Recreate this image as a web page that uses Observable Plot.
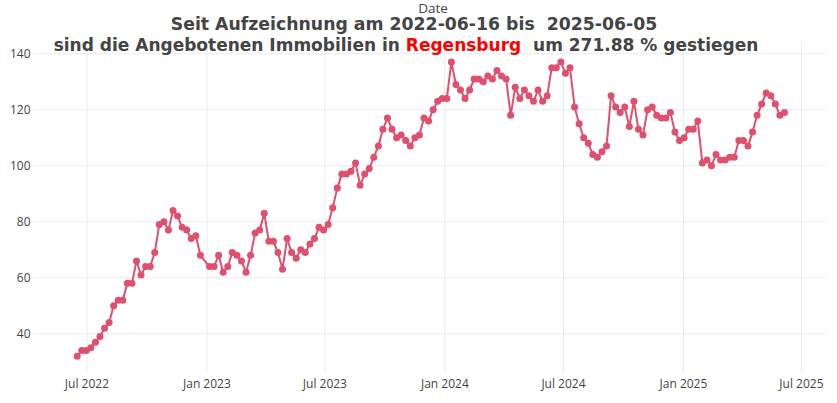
<!DOCTYPE html>
<html><head><meta charset="utf-8">
<script src="https://cdn.jsdelivr.net/npm/d3@7"></script>
<script src="https://cdn.jsdelivr.net/npm/@observablehq/plot@0.6"></script>
<style>body{margin:0;background:#fff;font-family:"Open Sans",sans-serif}</style>
</head><body><div id="chart"></div>
<script>
const startDate = "2022-06-16";
// weekly values (one per Thursday), null = no reading that week
const values = [32,34,34,35,37,39,42,44,50,52,52,58,58,66,61,64,64,69,79,80,77,84,82,78,77,74,75,68,null,64,64,68,62,64,69,68,66,62,68,76,77,83,73,73,69,63,74,69,67,70,69,72,74,78,77,79,85,92,97,97,98,101,93,97,99,103,107,113,117,113,110,111,109,107,110,111,117,116,120,123,124,124,137,129,127,124,127,131,131,130,132,131,134,132,131,118,128,124,127,125,123,127,123,125,135,135,137,133,135,121,115,110,108,104,103,105,107,125,121,119,121,114,123,113,111,120,121,118,117,117,119,112,109,110,113,113,116,101,102,100,104,102,102,103,103,109,109,107,112,118,122,126,125,122,118,119];
const tickDates = ["2022-07-01","2023-01-01","2023-07-01","2024-01-01","2024-07-01","2025-01-01","2025-07-01"];
const tickLabels = ["Jul 2022","Jan 2023","Jul 2023","Jan 2024","Jul 2024","Jan 2025","Jul 2025"];
const yTicks = [40,60,80,100,120,140];
const axisTitle = "Date";
const titleLine1 = "Seit Aufzeichnung am 2022-06-16 bis  2025-06-05";
const titleLine2a = "sind die Angebotenen Immobilien in ";
const titleCity = "Regensburg";
const titleLine2b = "  um 271.88 % gestiegen";

const parse = d3.utcParse("%Y-%m-%d");
const start = parse(startDate);
const data = values.map((v, i) => ({date: d3.utcDay.offset(start, 7 * i), value: v})).filter(d => d.value != null);
const ticks = tickDates.map(parse);
const labelMap = new Map(ticks.map((t, i) => [+t, tickLabels[i]]));
const color = "#e04f6d";

const chart = Plot.plot({
  width: 837, height: 403,
  marginTop: 42, marginBottom: 30, marginLeft: 33, marginRight: 10,
  style: {fontFamily: '"Open Sans", sans-serif', fontSize: "12px", color: "#444", background: "white"},
  x: {type: "utc", domain: [parse("2022-04-10"), parse("2025-08-10")], ticks: ticks, tickFormat: d => labelMap.get(+d), tickSize: 0, tickPadding: 6, label: null},
  y: {domain: [25.8, 144.0], ticks: yTicks, tickSize: 0, tickPadding: 3, label: null},
  marks: [
    Plot.gridX(ticks, {stroke: "#ebebeb", strokeOpacity: 1}),
    Plot.gridY(yTicks, {stroke: "#ebebeb", strokeOpacity: 1}),
    Plot.line(data, {x: "date", y: "value", stroke: color, strokeWidth: 2}),
    Plot.dot(data, {x: "date", y: "value", r: 3.5, fill: color, stroke: "none"})
  ]
});
document.getElementById("chart").append(chart);

const svg = d3.select(chart);
svg.append("text").attr("x", 433).attr("y", 12.5).attr("text-anchor", "middle")
  .attr("font-family", '"Open Sans", sans-serif').attr("font-size", 13.5).attr("fill", "#444").text(axisTitle);
const titleFont = '"DejaVu Sans", Verdana, sans-serif';
svg.append("text").attr("x", 414).attr("y", 30).attr("text-anchor", "middle")
  .attr("font-family", titleFont).attr("font-weight", "bold").attr("font-size", 17.3).attr("fill", "#444")
  .style("white-space", "pre").text(titleLine1);
const t2 = svg.append("text").attr("x", 406).attr("y", 51).attr("text-anchor", "middle")
  .attr("font-family", titleFont).attr("font-weight", "bold").attr("font-size", 17).attr("fill", "#444")
  .style("white-space", "pre");
t2.append("tspan").text(titleLine2a);
t2.append("tspan").attr("fill", "#ff0000").text(titleCity);
t2.append("tspan").text(titleLine2b);
</script></body></html>
